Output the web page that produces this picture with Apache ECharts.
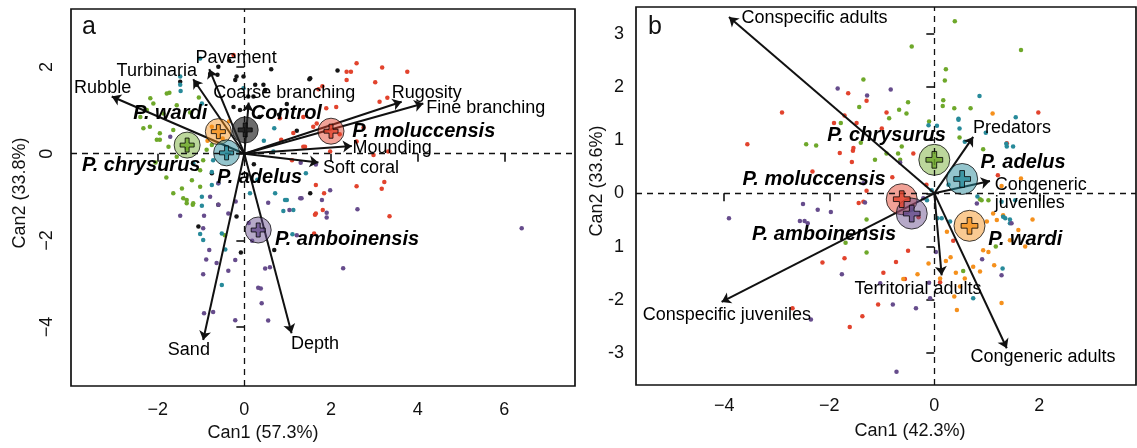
<!DOCTYPE html>
<html>
<head>
<meta charset="utf-8">
<script src="https://cdn.jsdelivr.net/npm/echarts@6/dist/echarts.min.js"></script>
<style>
  html, body { margin: 0; padding: 0; background: #fff; }
  #chart { width: 1137px; height: 448px; }
</style>
</head>
<body>
<div id="chart"></div>
<script>
// groups (order used for both panels)
const groups = ['Control', 'P. moluccensis', 'P. wardi', 'P. chrysurus', 'P. adelus', 'P. amboinensis']

// ---------- panel a: habitat ----------
const aControl = [[-1.48,1.66],[-0.6,2.01],[-0.21,1.7],[0.25,1.59],[0.48,1.47],[0.21,1.32],[-0.02,1.78],[-0.79,1.84],[-0.25,1.08],[2.15,1.92],[1.5,1.72],[0.98,1.15],[1.21,0.53],[1.52,-0.91],[0.22,-0.24],[-0.62,1.82],[-1.1,1.59],[-0.18,1.78],[0.44,1.59],[1.52,1.74],[0.09,1.32],[-0.1,1.01],[-0.75,-0.45],[-1.06,-1.68],[-0.18,-1.45],[-0.6,-1.18],[-0.08,-2.28],[0.69,-2.22],[0.62,1.95],[-0.35,2.15],[0.8,0.9],[0.35,0.85]]
const aMoluccensis = [[2.59,2.09],[2.36,1.89],[2.46,1.89],[3.18,1.99],[3.76,1.89],[3.02,1.65],[2.36,1.7],[1.8,1.56],[1.71,1.49],[2.12,1.08],[1.89,1.05],[3.12,1.2],[3.3,1.29],[1.59,0.62],[2.59,0.28],[2.98,-0.03],[3.32,0.05],[1.98,0.05],[1.4,0.16],[2.59,-0.75],[3.17,-0.81],[3.23,-0.65],[1.84,-0.91],[1.65,-0.72],[1.65,-1.38],[3.35,-1.44],[1.61,-1.84],[0.85,0.32],[1.13,0.48],[1.36,0.85],[1.67,0.7],[0.82,0.82],[1.36,0.16],[1.63,-1.41],[1.81,-1.3],[-0.25,2.28],[2.2,0.45],[2.75,0.6],[1.1,-0.15]]
const aWardi = [[-0.75,0.62],[-0.5,0.35],[-0.85,0.3],[-0.35,0.75]]
const aChrysurus = [[-2.17,1.28],[-1.79,1.39],[-1.56,1.12],[-2.25,1.01],[-2.33,0.59],[-1.95,0.47],[-2.02,0.32],[-1.64,0.55],[-1.75,0.16],[-1.33,0.12],[-0.87,0.09],[-0.95,-0.15],[-1.02,-0.38],[-1.21,-0.61],[-1.44,-0.8],[-1.64,-0.91],[-1.33,-1.07],[-1.56,-0.07],[-1.33,-1.14],[-1.19,-1.18],[-0.45,-1.88],[-1.73,1.41],[-2.1,1.16],[-1.95,0.32],[-1.41,-1.03],[-1.18,-1.14],[-1.02,-0.76],[-2.18,0.62],[-1.87,0.93],[-2.4,0.85],[-1.25,0.95],[-1.05,1.3],[-2.05,-0.2],[-1.8,-0.55],[-0.75,0.2]]
const aAdelus = [[-1.02,2.2],[-1.47,1.45],[0.69,0.59],[-0.72,-0.15],[-0.75,-0.42],[-0.98,-0.99],[0.98,-1.07],[-0.6,-0.68],[-0.75,-0.72],[0.13,-0.91],[0.71,-0.91],[0.94,-1.07],[1.13,-1.3],[0.67,0.05],[-0.02,1.51],[-1.48,1.78],[-1.48,1.59],[-0.98,1.16],[-1.18,-0.22],[-0.95,-1.99],[-0.52,-1.84],[-0.98,-1.2],[-1.02,-1.85],[-0.52,-3.03],[-0.44,-2.21],[0.9,-1.32],[1.11,-1.86],[1.42,-0.45],[0.45,0.3],[0.3,-0.6]]
const aAmboinensis = [[-1.48,-1.43],[-0.93,-1.43],[-0.95,-1.72],[-0.81,-2.22],[-0.64,-2.52],[-0.37,-2.7],[-0.95,-2.78],[-0.88,-2.44],[-0.21,-2.45],[-0.93,-3.68],[-0.72,-3.65],[-0.21,-3.84],[0.55,-3.85],[0.4,-3.45],[0.32,-3.09],[0.38,-3.11],[0.48,-2.65],[0.59,-2.62],[0.18,-2.01],[2.28,-2.64],[6.4,-1.72],[0.55,-1.13],[1.9,-1.36],[1.9,-1.47],[2.61,-1.28],[1.21,-1.88],[1.04,-1.3],[1.29,-1.03],[1.79,-1.07],[1.3,-0.21],[1.65,-0.25],[-0.79,-0.99],[-0.6,-1.18],[-0.37,-1.38],[1.32,-1.03],[1.98,-0.84],[-0.6,-0.68],[-1.71,0.39],[0.1,-1.6],[-0.2,-1.1]]

const aCentroids = [[0.02,0.55],[2.0,0.52],[-0.6,0.51],[-1.32,0.2],[-0.41,0.02],[0.32,-1.76]]
const aGroupLabelPos = [[0.97,0.92],[4.14,0.52],[-1.71,0.92],[-2.38,-0.28],[0.35,-0.54],[2.37,-1.99]]

const aVars = ['Rubble', 'Turbinaria', 'Pavement', 'Coarse branching', 'Rugosity', 'Fine branching', 'Mounding', 'Soft coral', 'Sand', 'Depth']
const aVarTips = [[-3.06,1.32],[-1.18,1.72],[-0.81,1.95],[0.1,1.18],[3.63,1.2],[4.13,1.16],[2.48,0.18],[1.71,-0.2],[-0.95,-4.3],[1.09,-4.14]]
const aVarLabelPos = [[-3.27,1.52],[-2.02,1.91],[-0.19,2.21],[0.92,1.39],[4.21,1.41],[5.57,1.05],[3.41,0.14],[2.69,-0.32],[-1.28,-4.53],[1.63,-4.38]]

const aXTicks = [-2, 0, 2, 4, 6]
const aXTickLabels = ['\u22122', '0', '2', '4', '6']
const aYTicks = [-4, -2, 0, 2]
const aYTickLabels = ['\u22124', '\u22122', '0', '2']

// ---------- panel b: social context ----------
const bMoluccensis = [[-2.9,1.52],[-3.56,0.92],[-1.64,1.88],[-1.29,1.74],[-1.91,1.32],[-1.71,1.46],[-1.48,1.32],[-1.8,0.76],[-1.55,0.8],[-1.57,0.59],[-2.32,0.41],[-1.29,0.05],[-1.44,-0.18],[-2.13,-1.3],[-1.71,-1.22],[-1.37,-2.31],[-1.61,-2.51],[-2.7,-2.16],[-0.5,-1.08],[-0.73,-1.29],[-0.97,-1.49],[-1.07,-2.09],[0.11,-1.67],[-0.56,-1.61],[0.36,-0.89],[-0.91,1.52],[-1.0,1.22],[-1.54,0.85],[-0.4,0.75],[-0.15,0.16],[-1.35,-0.16],[1.98,1.52],[1.38,0.94],[1.21,0.34],[-0.3,-0.45],[-0.8,0.3]]
const bWardi = [[-0.11,-1.32],[-0.32,-1.52],[-0.59,-1.61],[0.22,-1.27],[0.31,-1.2],[0.41,-1.49],[0.58,-1.6],[0.49,-1.75],[0.38,-1.94],[0.43,-2.19],[0.74,-1.38],[0.93,-1.07],[1.03,-1.1],[1.14,-1.35],[0.87,-1.47],[1.28,-2.06],[1.12,-0.38],[1.19,-0.5],[1.44,-0.88],[1.6,-0.69],[1.73,-1.0],[1.87,-0.49],[1.31,-0.41],[0.24,-0.72],[0.11,-1.6],[1.0,-0.53],[1.11,1.5],[1.65,0.28],[1.28,0.14]]
const bChrysurus = [[0.39,3.23],[1.65,2.69],[-0.43,2.76],[-1.35,2.14],[0.22,2.33],[0.2,2.12],[0.17,1.75],[0.16,1.64],[-0.5,1.71],[-0.67,1.57],[-1.43,1.62],[-0.86,1.41],[-0.1,1.35],[0.38,1.6],[0.69,1.6],[0.48,1.05],[-0.62,0.88],[-0.69,0.75],[0.93,0.83],[-1.13,0.63],[-1.29,-0.49],[0.87,-0.11],[1.03,-0.13],[-1.78,1.32],[-2.44,0.92],[-2.25,0.9],[-1.4,0.95],[-1.69,-0.93],[-1.29,-1.11],[0.55,-1.46],[1.17,-1.0],[-0.53,1.5],[-0.91,0.75],[-0.65,0.63],[0.9,-0.13]]
const bAdelus = [[0.86,1.83],[0.46,1.4],[0.48,1.22],[1.55,1.43],[1.37,0.93],[1.5,0.88],[0.98,1.14],[0.05,1.27],[0.58,0.97],[-0.05,0.06],[0.27,0.16],[0.82,-0.06],[1.28,-0.16],[1.35,-0.47],[1.44,-0.49],[0.14,-0.47],[0.3,-0.53],[-0.11,1.28],[0.46,1.38],[1.38,0.88],[1.54,-0.13],[1.31,-0.44],[1.44,-0.56],[-0.14,-0.13],[-0.43,-0.31],[1.3,-1.41],[0.74,-1.97],[0.06,-0.47]]
const bAmboinensis = [[-1.84,1.97],[-1.28,1.84],[-3.91,-0.47],[-2.5,-0.2],[-2.22,-0.31],[-1.97,-0.35],[-2.56,-0.52],[-2.47,-0.52],[-2.41,-0.56],[-1.32,-0.17],[-1.76,-1.52],[-2.35,-2.37],[-0.72,-3.35],[-0.79,-2.09],[-0.35,-2.16],[-0.08,-1.97],[-0.1,-1.68],[0.03,-1.1],[0.91,-1.24],[1.28,-1.54],[1.47,-0.56],[0.81,-0.19],[-1.03,-1.69],[-0.83,1.95],[-0.65,0.58],[-1.35,0.19],[-0.21,-0.09]]

// same group order as `groups`, Control absent in panel b
const bCentroids = [null,[-0.62,-0.11],[0.67,-0.61],[0.0,0.63],[0.53,0.27],[-0.43,-0.38]]
const bGroupLabelPos = [null,[-2.29,0.26],[1.73,-0.86],[-0.91,1.09],[1.69,0.58],[-2.1,-0.77]]

const bVars = ['Conspecific adults', 'Predators', 'Congeneric\njuveniles', 'Territorial adults', 'Congeneric adults', 'Conspecific juveniles']
const bVarTips = [[-3.91,3.31],[0.74,1.06],[1.06,0.23],[0.14,-1.54],[1.38,-2.91],[-4.05,-2.04]]
const bVarLabelPos = [[-2.28,3.29],[1.48,1.22],[1.15,-0.01],[-0.31,-1.79],[2.07,-3.07],[-3.95,-2.29]]

const bXTicks = [-4, -2, 0, 2]
const bXTickLabels = ['\u22124', '\u22122', '0', '2']
const bYTicks = [-3, -2, -1, 0, 1, 2, 3]
const bYTickLabels = ['-3', '-2', '1', '0', '1', '2', '3']

// ---------- styling ----------
const FONT = '"Liberation Sans", Arial, Helvetica, sans-serif'
const INK = '#111111'
const pointColor = ['#151515', '#e2432d', '#f5901c', '#6ea82a', '#278a9a', '#664c8c']
const circleFill = ['rgba(40,40,40,0.85)', 'rgba(226,67,45,0.62)', 'rgba(245,144,28,0.6)', 'rgba(110,168,42,0.58)', 'rgba(39,138,154,0.62)', 'rgba(102,76,140,0.6)']
const plusPath = 'path://M3.6,0H6.4V3.6H10V6.4H6.4V10H3.6V6.4H0V3.6H3.6Z'

const chart = echarts.init(document.getElementById('chart'), null, { renderer: 'canvas' })

function pointSeries(data, color, ax) {
  return {
    type: 'scatter', xAxisIndex: ax, yAxisIndex: ax, data,
    symbolSize: 4.5, itemStyle: { color, opacity: 1 }, z: 2, silent: true,
  }
}

// dashed zero lines
function refLines(ax) {
  return {
    type: 'scatter', xAxisIndex: ax, yAxisIndex: ax, data: [[0, 0]],
    symbolSize: 0, z: 1, silent: true,
    markLine: {
      silent: true, symbol: ['none', 'none'], label: { show: false },
      lineStyle: { color: INK, width: 1.3, type: [6, 5] },
      data: [{ xAxis: 0 }, { yAxis: 0 }],
    },
  }
}

function arrowSeries(tips, ax) {
  return {
    type: 'lines', coordinateSystem: 'cartesian2d', xAxisIndex: ax, yAxisIndex: ax,
    data: tips.map((t) => ({ coords: [[0, 0], t] })),
    symbol: ['none', 'arrow'], symbolSize: [0, 9],
    lineStyle: { color: INK, width: 2, opacity: 1 }, z: 3, silent: true,
  }
}

function textSeries(names, pos, ax, font, leftIdx) {
  return {
    type: 'scatter', xAxisIndex: ax, yAxisIndex: ax, symbolSize: 1, z: 6, silent: true,
    itemStyle: { color: 'rgba(0,0,0,0)' },
    data: names.map((n, i) => ({
      name: n, value: pos[i],
      label: i === leftIdx ? { align: 'left' } : undefined,
    })),
    label: Object.assign({
      show: true, position: 'inside', formatter: '{b}', color: '#000', opacity: 1,
      textBorderWidth: 0, fontFamily: FONT,
    }, font),
  }
}

function centroidSeries(cents, ax, size) {
  const idx = cents.map((c, i) => i).filter((i) => cents[i])
  return [
    {
      type: 'scatter', xAxisIndex: ax, yAxisIndex: ax, symbolSize: size, z: 4, silent: true,
      data: idx.map((i) => ({ value: cents[i], itemStyle: { color: circleFill[i] } })),
      itemStyle: { borderColor: '#111', borderWidth: 1 },
    },
    {
      type: 'scatter', xAxisIndex: ax, yAxisIndex: ax, symbol: plusPath, symbolSize: size * 0.54, z: 5, silent: true,
      data: idx.map((i) => ({ value: cents[i], itemStyle: { color: pointColor[i] } })),
      itemStyle: { borderColor: '#000', borderWidth: 1 },
    },
  ]
}

function axis(kind, gi, min, max, ticks, labels, extra) {
  const a = {
    type: 'value', gridIndex: gi, min, max,
    axisLine: { show: false },
    axisTick: { show: true, inside: false, length: 8, customValues: ticks, lineStyle: { color: INK, width: 1.6 } },
    axisLabel: Object.assign({
      customValues: ticks, color: INK, fontSize: 18, fontFamily: FONT,
      formatter: (v) => labels[ticks.indexOf(v)] ?? '',
    }, extra || {}),
    splitLine: { show: false },
  }
  if (kind === 'y') a.position = 'left'
  return a
}

const gridStyle = { show: true, borderColor: INK, borderWidth: 1.7, backgroundColor: 'transparent' }
const speciesFont = { fontSize: 20, fontWeight: 'bold', fontStyle: 'italic' }
const varFont = { fontSize: 18 }

const aPts = [aControl, aMoluccensis, aWardi, aChrysurus, aAdelus, aAmboinensis]
const bPts = [null, bMoluccensis, bWardi, bChrysurus, bAdelus, bAmboinensis]

const series = [refLines(0), refLines(1)]
aPts.forEach((p, i) => series.push(pointSeries(p, pointColor[i], 0)))
bPts.forEach((p, i) => { if (p) series.push(pointSeries(p, pointColor[i], 1)) })
series.push(arrowSeries(aVarTips, 0), arrowSeries(bVarTips, 1))
series.push(...centroidSeries(aCentroids, 0, 26), ...centroidSeries(bCentroids, 1, 31))
series.push(textSeries(aVars, aVarLabelPos, 0, varFont, -1))
series.push(textSeries(bVars, bVarLabelPos, 1, varFont, 2))
series.push(textSeries(groups, aGroupLabelPos, 0, speciesFont, -1))
const bIdx = groups.map((g, i) => i).filter((i) => bCentroids[i])
series.push(textSeries(bIdx.map((i) => groups[i]), bIdx.map((i) => bGroupLabelPos[i]), 1, speciesFont, -1))

const titleStyle = { fill: INK, fontSize: 18, fontFamily: FONT, textAlign: 'center', textVerticalAlign: 'middle' }

chart.setOption({
  animation: false,
  backgroundColor: '#fff',
  grid: [
    Object.assign({ left: 71, top: 9, width: 504, height: 377 }, gridStyle),
    Object.assign({ left: 636, top: 7, width: 500, height: 378 }, gridStyle),
  ],
  xAxis: [
    axis('x', 0, -4.0, 7.63, aXTicks, aXTickLabels, { margin: 15 }),
    axis('x', 1, -5.68, 3.84, bXTicks, bXTickLabels, { margin: 12 }),
  ],
  yAxis: [
    axis('y', 0, -5.36, 3.34, aYTicks, aYTickLabels, { rotate: 90, margin: 15 }),
    axis('y', 1, -3.6, 3.5, bYTicks, bYTickLabels, { margin: 12 }),
  ],
  graphic: [
    { type: 'text', x: 89, y: 27, style: Object.assign({}, titleStyle, { text: 'a', fontSize: 25 }) },
    { type: 'text', x: 655, y: 27, style: Object.assign({}, titleStyle, { text: 'b', fontSize: 25 }) },
    { type: 'text', x: 263, y: 433, style: Object.assign({}, titleStyle, { text: 'Can1 (57.3%)' }) },
    { type: 'text', x: 910, y: 431, style: Object.assign({}, titleStyle, { text: 'Can1 (42.3%)' }) },
    { type: 'text', x: 20, y: 193, rotation: Math.PI / 2, style: Object.assign({}, titleStyle, { text: 'Can2 (33.8%)' }) },
    { type: 'text', x: 597, y: 181, rotation: Math.PI / 2, style: Object.assign({}, titleStyle, { text: 'Can2 (33.6%)' }) },
  ],
  series,
})
</script>
</body>
</html>
